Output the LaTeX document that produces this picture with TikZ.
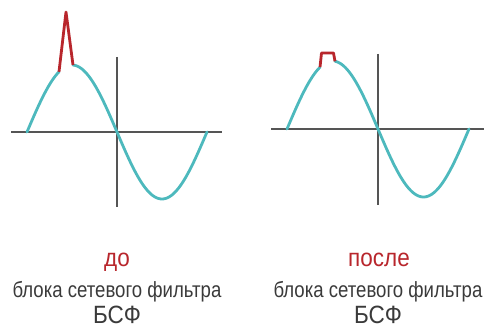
\documentclass[tikz,border=0pt]{standalone}
\usepackage{fontspec}
\setmainfont{Liberation Sans}[FakeStretch=0.84]
\newfontfamily\narrowA{Liberation Sans}[FakeStretch=0.845]
\newfontfamily\narrowB{Liberation Sans}[FakeStretch=0.9]
\definecolor{wave}{HTML}{4DB9BD}
\definecolor{spike}{HTML}{B8262C}
\definecolor{axis}{HTML}{555555}
\definecolor{txt}{HTML}{3A3A3A}
\begin{document}
\begin{tikzpicture}[x=1pt,y=-1pt,
  axisline/.style={draw=axis,line width=1.5pt},
  waveline/.style={draw=wave,line width=2.8pt,line cap=round},
  noise/.style={draw=spike,line width=2.8pt,line join=round},
  redlabel/.style={anchor=base,text=spike,font=\narrowB\fontsize{25}{25}\selectfont,inner sep=0pt},
  graylabel/.style={anchor=base,text=txt,font=\narrowA\fontsize{22}{22}\selectfont,inner sep=0pt},
  biglabel/.style={anchor=base,text=txt,font=\narrowB\fontsize{25}{25}\selectfont,inner sep=0pt}]
\useasboundingbox (0,0) rectangle (484,328);
% left panel
\draw[axisline] (11,132) -- (222,132);
\draw[axisline] (117,57) -- (117,207);
\draw[waveline] plot[domain=0:32,samples=40] ({27+\x},{132-67*sin(2*\x)});
\draw[waveline] plot[domain=46:180,samples=120] ({27+\x},{132-67*sin(2*\x)});
\coordinate (s1) at (59,71.8);
\coordinate (s2) at (66,12);
\coordinate (s3) at (73,65.0);
\draw[noise] (s1) -- (s2) -- (s3);
% right panel
\draw[axisline] (271,129) -- (484,129);
\draw[axisline] (378,54) -- (378,205);
\draw[waveline] plot[domain=0:33,samples=40] ({287+\x},{129-68*sin(1.978*\x)});
\draw[waveline] plot[domain=48:182,samples=120] ({287+\x},{129-68*sin(1.978*\x)});
\coordinate (b1) at (320,67.2);
\coordinate (b2) at (321.5,53);
\coordinate (b3) at (333.5,53);
\coordinate (b4) at (335,61.3);
\draw[noise] (b1) -- (b2) -- (b3) -- (b4);
% labels
\node[redlabel] (do) at (117,266.7) {до};
\node[graylabel] (l1) at (117,297.3) {блока сетевого фильтра};
\node[biglabel] (l2) at (117,323.5) {БСФ};
\node[redlabel] (posle) at (379,266.7) {после};
\node[graylabel] (r1) at (378,297.3) {блока сетевого фильтра};
\node[biglabel] (r2) at (378,323.5) {БСФ};
\end{tikzpicture}
\end{document}
